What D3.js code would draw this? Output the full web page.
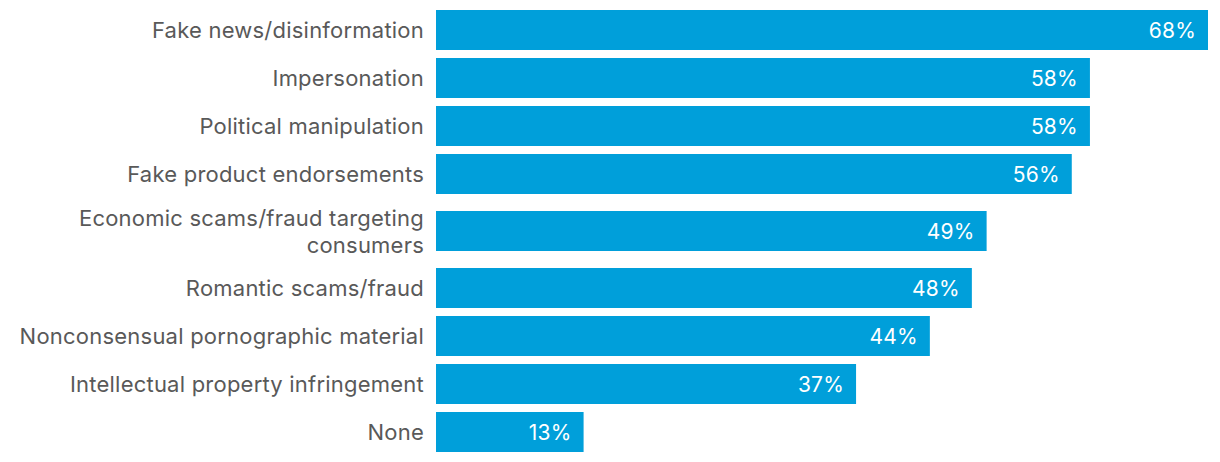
<!DOCTYPE html>
<html>
<head>
<meta charset="utf-8">
<script src="https://cdn.jsdelivr.net/npm/d3@7"></script>
<style>
  html, body { margin: 0; padding: 0; background: #fff; }
  svg { display: block; }
</style>
</head>
<body>
<div id="chart"></div>
<script>
const categories = [
  "Fake news/disinformation",
  "Impersonation",
  "Political manipulation",
  "Fake product endorsements",
  "Economic scams/fraud targeting consumers",
  "Romantic scams/fraud",
  "Nonconsensual pornographic material",
  "Intellectual property infringement",
  "None"
];
const values = [68, 57.6, 57.6, 56, 48.5, 47.2, 43.5, 37, 13];
const valueLabels = ["68%", "58%", "58%", "56%", "49%", "48%", "44%", "37%", "13%"];

const W = 1220, H = 462;
const fontFamily = "Inter, 'Liberation Sans', Arial, sans-serif";
const barColor = "#009fda";
const textColor = "#595959";
const fontSize = 22;
const letterSpacing = 0.22;
const lineH = 27;
const wrapWidth = 420;

const svg = d3.select("#chart").append("svg")
  .attr("width", W).attr("height", H);

const measure = svg.append("text").attr("font-family", fontFamily).attr("font-size", fontSize)
  .attr("letter-spacing", letterSpacing);
function wrap(str) {
  const words = str.split(" ");
  const lines = [];
  let cur = "";
  for (const w of words) {
    const test = cur ? cur + " " + w : w;
    measure.text(test);
    if (measure.node().getComputedTextLength() > wrapWidth && cur) {
      lines.push(cur); cur = w;
    } else cur = test;
  }
  lines.push(cur);
  return lines;
}
const wrapped = categories.map(wrap);
measure.remove();

const units = wrapped.map(l => 1 + (l.length - 1) * 0.375);
const starts = [0, ...d3.cumsum(units)];
const total = starts[starts.length - 1];
const y = d3.scaleLinear().domain([0, total]).range([6, 6 + 48 * total]);
const barH = 40;

const x = d3.scaleLinear().domain([0, 68]).range([436, 1208]);

const rows = svg.selectAll("g.row").data(categories).join("g").attr("class", "row");

rows.each(function(d, i) {
  const g = d3.select(this);
  const cy = (y(starts[i]) + y(starts[i] + units[i])) / 2;
  g.append("rect")
    .attr("x", x(0))
    .attr("y", cy - barH / 2)
    .attr("width", x(values[i]) - x(0))
    .attr("height", barH)
    .attr("fill", barColor);
  g.append("text")
    .attr("x", x(values[i]) - 12)
    .attr("y", cy + 8)
    .attr("text-anchor", "end")
    .attr("font-family", fontFamily)
    .attr("font-size", 21)
    .attr("letter-spacing", letterSpacing)
    .attr("fill", "#ffffff")
    .text(valueLabels[i]);
  const lines = wrapped[i];
  const t = g.append("text")
    .attr("text-anchor", "end")
    .attr("font-family", fontFamily)
    .attr("font-size", fontSize)
    .attr("letter-spacing", letterSpacing)
    .attr("fill", textColor);
  const first = cy + 8 - (lines.length - 1) * lineH / 2;
  lines.forEach((ln, k) => {
    t.append("tspan").attr("x", x(0) - 12).attr("y", first + k * lineH).text(ln);
  });
});
</script>
</body>
</html>
